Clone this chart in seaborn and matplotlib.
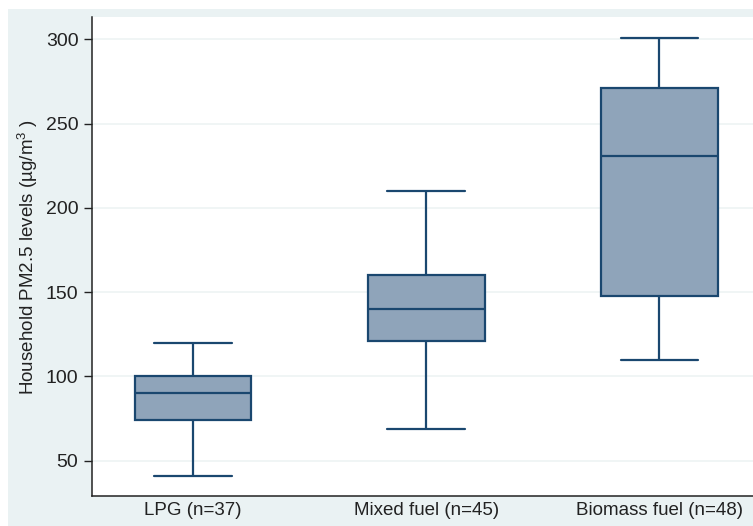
import numpy as np
import pandas as pd
import seaborn as sns
import matplotlib
matplotlib.use("Agg")
import matplotlib.pyplot as plt
from matplotlib.patches import Rectangle

# five-number summaries (min, q1, median, q3, max)
groups = ["LPG (n=37)", "Mixed fuel (n=45)", "Biomass fuel (n=48)"]
lpg = [41, 74, 90, 100, 120]
mixed = [69, 121, 140, 160, 210]
biomass = [110, 148, 231, 271, 301]
yticks = [50, 100, 150, 200, 250, 300]

sns.set_theme(style="ticks")
plt.rcParams['font.family'] = ['Liberation Sans', 'DejaVu Sans']
plt.rcParams['mathtext.fontset'] = 'custom'
plt.rcParams['mathtext.rm'] = 'Liberation Sans'
plt.rcParams['mathtext.it'] = 'Liberation Sans'

df = pd.DataFrame({
    'fuel': np.repeat(groups, 5),
    'pm25': lpg + mixed + biomass,
})

bg = '#eaf2f3'
navy = '#1a476f'

fig = plt.figure(figsize=(7.53, 5.26), dpi=100)
fig.patch.set_facecolor('white')
fig.patches.append(Rectangle((8 / 753, 0), 1 - 8 / 753, (526 - 9) / 526,
                             transform=fig.transFigure, facecolor=bg,
                             edgecolor='none', zorder=-5))

ax = fig.add_axes([92.3 / 753, 30 / 526, 1 - 92.3 / 753, (496 - 17.5) / 526])
ax.set_facecolor('white')

sns.boxplot(data=df, x='fuel', y='pm25', order=groups, ax=ax,
            width=0.5, color='#8fa4ba', saturation=1, linecolor=navy,
            linewidth=1.6, showfliers=False, capwidths=0.333)

ax.set_xlim(-0.432, 2.401)
ax.set_ylim(29.1, 312.9)
ax.set_yticks(yticks)
ax.yaxis.grid(True, color='#edf3f4', linewidth=1.2)
ax.xaxis.grid(False)
ax.set_axisbelow(True)

ax.set_xlabel('')
ax.set_ylabel('Household PM2.5 levels (µg/m$^{3}$ )', fontsize=13.5, color='#222222')
ax.yaxis.set_label_coords(-0.079, 0.5)

ax.tick_params(axis='y', labelsize=14, length=6, width=1, pad=4, colors='#222222')
ax.tick_params(axis='x', labelsize=13.5, length=0, pad=4, colors='#222222')

for side in ['top', 'right']:
    ax.spines[side].set_visible(False)
for side in ['left', 'bottom']:
    ax.spines[side].set_color('#222222')
    ax.spines[side].set_linewidth(1.1)

fig.savefig('out.png', dpi=100, facecolor=fig.get_facecolor())
